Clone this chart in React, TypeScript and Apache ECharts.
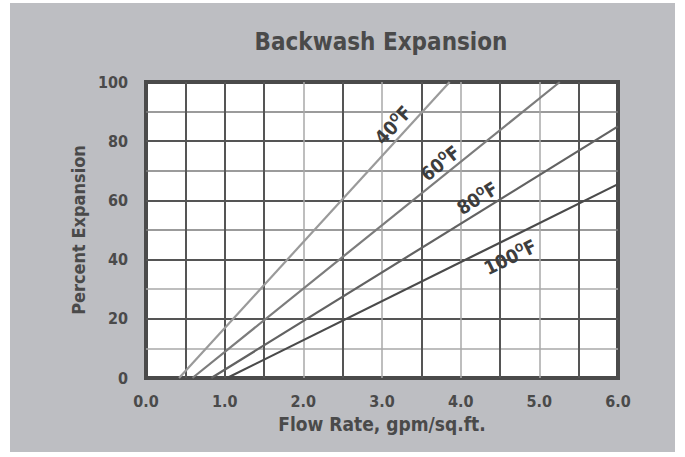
import React, { useEffect, useRef } from "react";
import * as echarts from "echarts";

const titleText = "Backwash Expansion";
const xAxisTitle = "Flow Rate, gpm/sq.ft.";
const yAxisTitle = "Percent Expansion";

const xTickLabels = ["0.0", "1.0", "2.0", "3.0", "4.0", "5.0", "6.0"];

// temperature curves: straight lines from the x-axis crossing to the frame
const temps = ["40", "60", "80", "100"];
const startFlow = [0.42, 0.59, 0.83, 1.03];
const startPct = [0, 0, 0, 0];
const endFlow = [3.86, 5.26, 6.0, 6.0];
const endPct = [100, 100, 85, 65.5];

// label anchor points (data coords)
const labelFlow = [3.14, 3.74, 4.21, 4.63];
const labelPct = [85.5, 72.6, 60.8, 40.9];

const lineColors = ["#9a9a9a", "#7c7c7c", "#626262", "#4a4a4a"];

const FONT = '"Liberation Sans Narrow", "DejaVu Sans Condensed", "Roboto Condensed", sans-serif';
const TXT = "#4a4a4a";

const GRID = { left: 146, top: 82, width: 472, height: 296 };

export default function App() {
  const ref = useRef<HTMLDivElement>(null);

  useEffect(() => {
    if (!ref.current) return;
    const chart = echarts.init(ref.current, undefined, { renderer: "svg" });

    const pxPerX = GRID.width / 6;
    const pxPerY = GRID.height / 100;

    const T = "rgba(0,0,0,0)";
    const DK = "#555555";
    const MD = "#7a7a7a";
    const LT = "#a8a8a8";
    // x ticks at 0,0.5,...,6
    const xDark = [T, DK, DK, DK, T, DK, T, DK, T, DK, T, DK, T];
    const xLight = [T, T, T, T, LT, T, LT, T, LT, T, LT, T, T];
    // y ticks at 0,10,...,100
    const yDark = [T, T, DK, T, DK, T, DK, T, DK, T, T];
    const yLight = [T, LT, T, LT, T, MD, T, MD, T, MD, T];

    const series: any[] = temps.map((t, i) => {
      const dx = (endFlow[i] - startFlow[i]) * pxPerX;
      const dy = (endPct[i] - startPct[i]) * pxPerY;
      const ang = (Math.atan2(dy, dx) * 180) / Math.PI;
      return {
        type: "line",
        name: t + "°F",
        data: [
          [startFlow[i], startPct[i]],
          [endFlow[i], endPct[i]],
        ],
        showSymbol: false,
        symbol: "none",
        clip: true,
        lineStyle: { color: lineColors[i], width: 2.2 },
        z: 5,
        markPoint: {
          symbol: "circle",
          symbolSize: 0,
          silent: true,
          data: [{ coord: [labelFlow[i], labelPct[i]] }],
          label: {
            show: true,
            position: "inside",
            rotate: ang,
            formatter: "{n|" + t + "}{s|O}{n|F}",
            rich: {
              n: { fontFamily: FONT, fontWeight: "bold", fontSize: 19, color: "#3d3d3d", lineHeight: 19 },
              s: { fontFamily: FONT, fontWeight: "bold", fontSize: 11, color: "#3d3d3d", verticalAlign: "top", lineHeight: 11 },
            },
          },
        },
      };
    });

    const xBase = {
      type: "value",
      min: 0,
      max: 6,
      interval: 0.5,
      position: "bottom",
      axisTick: { show: false },
      axisLine: { show: false },
      z: 2,
    };
    const yBase = {
      type: "value",
      min: 0,
      max: 100,
      interval: 10,
      position: "left",
      axisTick: { show: false },
      axisLine: { show: false },
      z: 2,
    };

    chart.setOption({
      animation: false,
      backgroundColor: "#ffffff",
      title: {
        text: titleText,
        left: 381,
        top: 30,
        padding: 0,
        textAlign: "center",
        textStyle: { fontFamily: FONT, fontWeight: "bold", fontSize: 24, color: TXT },
      },
      graphic: [
        {
          type: "rect",
          z: -100,
          silent: true,
          shape: { x: 10, y: 3, width: 665, height: 449 },
          style: { fill: "#bdbec2" },
        },
      ],
      grid: {
        ...GRID,
        show: true,
        backgroundColor: "#ffffff",
        borderColor: "#4b4b4b",
        borderWidth: 4,
        containLabel: false,
        outerBoundsMode: "none",
      },
      xAxis: [
        {
          ...xBase,
          name: xAxisTitle,
          nameLocation: "middle",
          nameGap: 36,
          nameTextStyle: { fontFamily: FONT, fontWeight: "bold", fontSize: 19, color: TXT },
          axisLabel: {
            margin: 15,
            fontFamily: FONT,
            fontWeight: "bold",
            fontSize: 16,
            color: TXT,
            lineHeight: 16,
            formatter: (v: number) => {
              const idx = Math.round(v);
              return Math.abs(v - idx) < 1e-6 ? xTickLabels[idx] : "";
            },
          },
          splitLine: { show: true, lineStyle: { color: xDark, width: 2 } },
        },
        {
          ...xBase,
          axisLabel: { show: false },
          splitLine: { show: true, lineStyle: { color: xLight, width: 1.5 } },
        },
      ],
      yAxis: [
        {
          ...yBase,
          name: yAxisTitle,
          nameLocation: "middle",
          nameGap: 58,
          nameTextStyle: { fontFamily: FONT, fontWeight: "bold", fontSize: 18, color: TXT },
          axisLabel: {
            margin: 18,
            fontFamily: FONT,
            fontWeight: "bold",
            fontSize: 16,
            color: TXT,
            padding: [0, 0, 12, 0],
            formatter: (v: number) => (v % 20 === 0 ? String(v) : ""),
          },
          splitLine: { show: true, lineStyle: { color: yDark, width: 2 } },
        },
        {
          ...yBase,
          axisLabel: { show: false },
          splitLine: { show: true, lineStyle: { color: yLight, width: 1.5 } },
        },
      ],
      series,
    });

    return () => chart.dispose();
  }, []);

  return (
    <div
      ref={ref}
      style={{ position: "fixed", left: 0, top: 0, width: 685, height: 457 }}
    />
  );
}
